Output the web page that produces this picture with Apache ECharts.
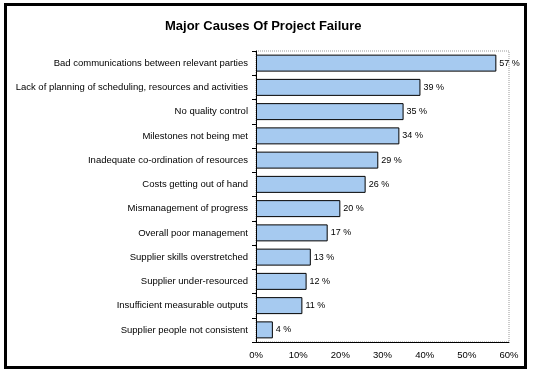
<!DOCTYPE html>
<html>
<head>
<meta charset="utf-8">
<script src="https://cdn.jsdelivr.net/npm/echarts@6/dist/echarts.min.js"></script>
<style>
html, body { margin: 0; padding: 0; background: #fff; }
#wrap { position: absolute; left: 4px; top: 3px; width: 517px; height: 360px; border: 3px solid #000; }
#chart { position: absolute; left: 0; top: 0; width: 533px; height: 376px; }
</style>
</head>
<body>
<div id="wrap"></div>
<div id="chart"></div>
<script>
// categories top to bottom
var causes = [
    'Bad communications between relevant parties',
    'Lack of planning of scheduling, resources and activities',
    'No quality control',
    'Milestones not being met',
    'Inadequate co-ordination of resources',
    'Costs getting out of hand',
    'Mismanagement of progress',
    'Overall poor management',
    'Supplier skills overstretched',
    'Supplier under-resourced',
    'Insufficient measurable outputs',
    'Supplier people not consistent'
];
var percent = [57, 39, 35, 34, 29, 26, 20, 17, 13, 12, 11, 4];

var myChart = echarts.init(document.getElementById('chart'));
var option = {
    animation: false,
    title: {
        text: 'Major Causes Of Project Failure',
        left: 160,
        top: 15,
        textStyle: { fontFamily: 'Liberation Sans, Arial', fontSize: 13, fontWeight: 'bold', color: '#000' }
    },
    grid: {
        left: 256, right: 24, top: 51, bottom: 34,
        show: true, borderColor: '#999', borderWidth: 1, borderType: 'dotted'
    },
    xAxis: {
        type: 'value',
        min: 0, max: 60, interval: 10,
        axisLine: { show: true, lineStyle: { color: '#000', width: 1 } },
        axisTick: { show: false },
        splitLine: { show: false },
        axisLabel: {
            formatter: '{value}%', color: '#000', fontSize: 9.5, margin: 8,
            fontFamily: 'Liberation Sans, Arial'
        }
    },
    yAxis: {
        type: 'category',
        data: causes,
        inverse: true,
        axisLine: { show: true, lineStyle: { color: '#000', width: 1 } },
        axisTick: { show: true, length: 4, lineStyle: { color: '#000' } },
        axisLabel: { color: '#000', fontSize: 9.5, margin: 8, fontFamily: 'Liberation Sans, Arial' }
    },
    series: [{
        type: 'bar',
        data: percent,
        barCategoryGap: '30%',
        itemStyle: { color: '#a6caf0', borderColor: '#000', borderWidth: 1 },
        label: {
            show: true, position: 'right', distance: 3,
            formatter: '{c} %', color: '#000', fontSize: 9, fontFamily: 'Liberation Sans, Arial'
        }
    }]
};
myChart.setOption(option);
window.addEventListener('resize', function () {
    myChart.resize();
});
</script>
</body>
</html>
